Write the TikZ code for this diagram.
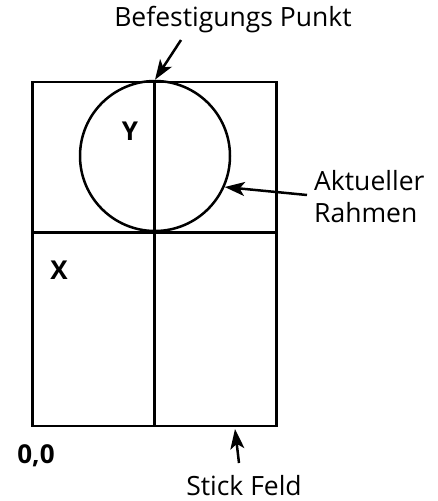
\documentclass[tikz,border=0pt]{standalone}
\usepackage{fontspec}
\setmainfont{Open Sans}
\usetikzlibrary{arrows.meta,positioning,calc}

\begin{document}
\begin{tikzpicture}[
  x=1pt,y=-1pt,
  feldline/.style={line width=2.5pt,draw=black},
  lbl/.style={font=\fontsize{26.5}{32}\selectfont,inner sep=0pt},
  axislbl/.style={font=\fontsize{26}{32}\selectfont\bfseries,inner sep=0pt},
  arr/.style={-{Stealth[length=20pt,width=14pt,inset=5pt]},line width=2.5pt}
]
\useasboundingbox (0,0) rectangle (438,501);
% stick field and frame
\node[feldline,rectangle,minimum width=244pt,minimum height=344pt,inner sep=0pt] (feld) at (154.5,254) {};
\node[feldline,circle,minimum size=150pt,inner sep=0pt] (rahmen) at (155,156) {};
\draw[feldline] (feld.north) -- (feld.south);
\draw[feldline] (feld.west |- rahmen.south) -- (feld.east |- rahmen.south);
% labels
\node[axislbl] (ylbl) at (130,131) {Y};
\node[axislbl] (xlbl) at (59,270) {X};
\node[axislbl] (origin) at (36,456) {0,0};
\node[lbl] (punkt) at (233,20) {Befestigungs Punkt};
\node[lbl,align=left,anchor=west] (aktuell) at (314,197) {Aktueller\\Rahmen};
\node[lbl] (stick) at (244,486) {Stick Feld};
\coordinate (punkttail) at (181,40);
\coordinate (aktuelltail) at (307,195);
\coordinate (sticktail) at (239,463);
\coordinate (stickhead) at (235,429);
% arrows
\draw[arr] (punkttail) -- (rahmen.north);
\draw[arr] (aktuelltail) -- (rahmen.-24);
\draw[arr] (sticktail) -- (stickhead);
\end{tikzpicture}
\end{document}
